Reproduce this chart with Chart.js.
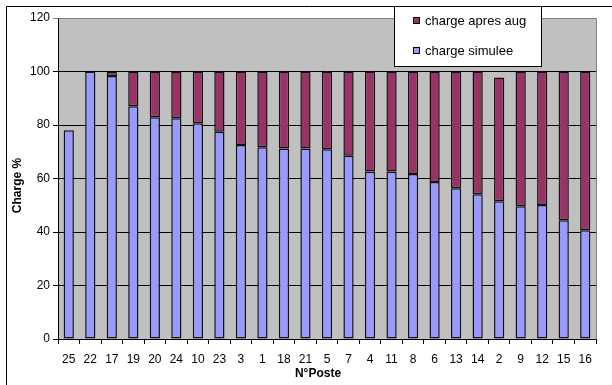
<!DOCTYPE html>
<html>
<head>
<meta charset="utf-8">
<script src="https://cdn.jsdelivr.net/npm/chart.js@4/dist/chart.umd.min.js"></script>
<style>
  html, body { margin: 0; padding: 0; background: #ffffff; }
  #wrap { position: relative; width: 612px; height: 385px; }
</style>
</head>
<body>
<div id="wrap"><canvas id="chart" width="612" height="385"></canvas></div>
<script>
// Postes, sorted by simulated load
const postes = ['25','22','17','19','20','24','10','23','3','1','18','21','5','7','4','11','8','6','13','14','2','9','12','15','16'];

// Simulated load (%)
const chargeSimulee = [78, 100, 98.3, 87, 82.9, 82.5, 80.7, 77.5, 72.5, 71.7, 71.2, 71.2, 70.9, 68.5, 62.6, 62.6, 61.7, 58.7, 56.4, 54.1, 51.5, 49.6, 50.1, 44.4, 40.7];

// Additional load after the increase (stacked on top of the simulated load)
const chargeApresAug = [null, null, 1.7, 13, 17.1, 17.5, 19.3, 22.5, 27.5, 28.3, 28.8, 28.8, 29.1, 31.5, 37.4, 37.4, 38.3, 41.3, 43.6, 45.9, 46.3, 50.4, 49.9, 55.6, 59.3];

// Value axis ticks
const yTicks = [0, 20, 40, 60, 80, 100, 120];

// Axis titles
const xTitle = 'N°Poste';
const yTitle = 'Charge %';

const FONT = 'Liberation Sans, Arial, sans-serif';
const BLUE = '#9999FF';
const MAROON = '#993366';

// Grey plot background, outer frame and plot-area border
const framePlugin = {
  id: 'frame',
  beforeDraw(chart) {
    const { ctx, chartArea: a } = chart;
    ctx.save();
    ctx.fillStyle = '#ffffff';
    ctx.fillRect(0, 0, chart.width, chart.height);
    ctx.fillStyle = '#C0C0C0';
    ctx.fillRect(a.left, a.top, a.right - a.left, a.bottom - a.top);
    ctx.strokeStyle = '#000000';
    ctx.lineWidth = 1;
    ctx.beginPath();
    ctx.moveTo(6.5, chart.height + 2);
    ctx.lineTo(6.5, 6.5);
    ctx.lineTo(chart.width + 2, 6.5);
    ctx.stroke();
    ctx.restore();
  },
  beforeDatasetsDraw(chart) {
    const { ctx, chartArea: a } = chart;
    ctx.save();
    ctx.strokeStyle = '#808080';
    ctx.lineWidth = 1;
    ctx.beginPath();
    ctx.moveTo(Math.round(a.left) + 0.5, Math.round(a.top) + 0.5);
    ctx.lineTo(Math.round(a.right) + 0.5, Math.round(a.top) + 0.5);
    ctx.lineTo(Math.round(a.right) + 0.5, Math.round(a.bottom) + 0.5);
    ctx.stroke();
    ctx.restore();
  }
};

// Axis titles, placed a little off-centre like the original worksheet chart
const axisTitles = {
  id: 'axisTitles',
  afterDraw(chart) {
    const { ctx, chartArea: a } = chart;
    ctx.save();
    ctx.fillStyle = '#000000';
    ctx.font = 'bold 12px ' + FONT;
    ctx.textAlign = 'center';
    ctx.textBaseline = 'middle';
    ctx.fillText(xTitle, (a.left + a.right) / 2 - 9, chart.height - 11);
    ctx.translate(18, (a.top + a.bottom) / 2 + 7);
    ctx.rotate(-Math.PI / 2);
    ctx.fillText(yTitle, 0, 0);
    ctx.restore();
  }
};

// Boxed legend in the upper right, series listed top-down in reverse order
const boxLegend = {
  id: 'boxLegend',
  afterDraw(chart) {
    const { ctx } = chart;
    const ds = chart.data.datasets.slice().reverse();
    ctx.save();
    ctx.fillStyle = '#ffffff';
    ctx.strokeStyle = '#000000';
    ctx.lineWidth = 1;
    ctx.fillRect(394.5, 6.5, 147, 60);
    ctx.strokeRect(394.5, 6.5, 147, 60);
    ctx.font = '13px ' + FONT;
    ctx.textBaseline = 'middle';
    ctx.textAlign = 'left';
    ds.forEach((d, i) => {
      const cy = 21 + i * 30;
      ctx.fillStyle = d.backgroundColor;
      ctx.fillRect(413.5, cy - 3.5, 6, 6);
      ctx.strokeRect(413.5, cy - 3.5, 6, 6);
      ctx.fillStyle = '#000000';
      ctx.fillText(d.label, 425, cy);
    });
    ctx.restore();
  }
};

const barStyle = {
  borderColor: '#111111',
  borderWidth: 1.5,
  borderSkipped: false,
  inflateAmount: 0,
  categoryPercentage: 1,
  barPercentage: 0.476
};

new Chart(document.getElementById('chart'), {
  type: 'bar',
  data: {
    labels: postes,
    datasets: [
      Object.assign({ label: 'charge simulee', data: chargeSimulee, backgroundColor: BLUE }, barStyle),
      Object.assign({ label: 'charge apres aug', data: chargeApresAug, backgroundColor: MAROON }, barStyle)
    ]
  },
  options: {
    responsive: false,
    animation: false,
    devicePixelRatio: 1,
    layout: { padding: { left: 7, top: 18, right: 16, bottom: 0 } },
    plugins: {
      legend: { display: false },
      tooltip: { enabled: false }
    },
    scales: {
      x: {
        stacked: true,
        afterFit(scale) { scale.height = 46; },
        grid: {
          offset: true,
          drawOnChartArea: false,
          drawTicks: true,
          tickLength: 5,
          color: '#000000'
        },
        border: { display: true, color: '#000000', width: 1 },
        ticks: {
          color: '#000000',
          font: { family: FONT, size: 12 },
          padding: 8,
          maxRotation: 0,
          autoSkip: false
        },
        title: { display: false }
      },
      y: {
        stacked: true,
        min: 0,
        max: 120,
        afterFit(scale) { scale.width = 51; },
        afterBuildTicks(scale) { scale.ticks = yTicks.map(v => ({ value: v })); },
        grid: {
          color: ctx => (ctx.tick && ctx.tick.value === 120 ? '#808080' : '#000000'),
          lineWidth: 1,
          tickLength: 5,
          drawTicks: true
        },
        border: { display: true, color: '#000000', width: 1 },
        ticks: {
          color: '#000000',
          font: { family: FONT, size: 12 },
          padding: 3
        },
        title: { display: false }
      }
    }
  },
  plugins: [framePlugin, axisTitles, boxLegend]
});
</script>
</body>
</html>
